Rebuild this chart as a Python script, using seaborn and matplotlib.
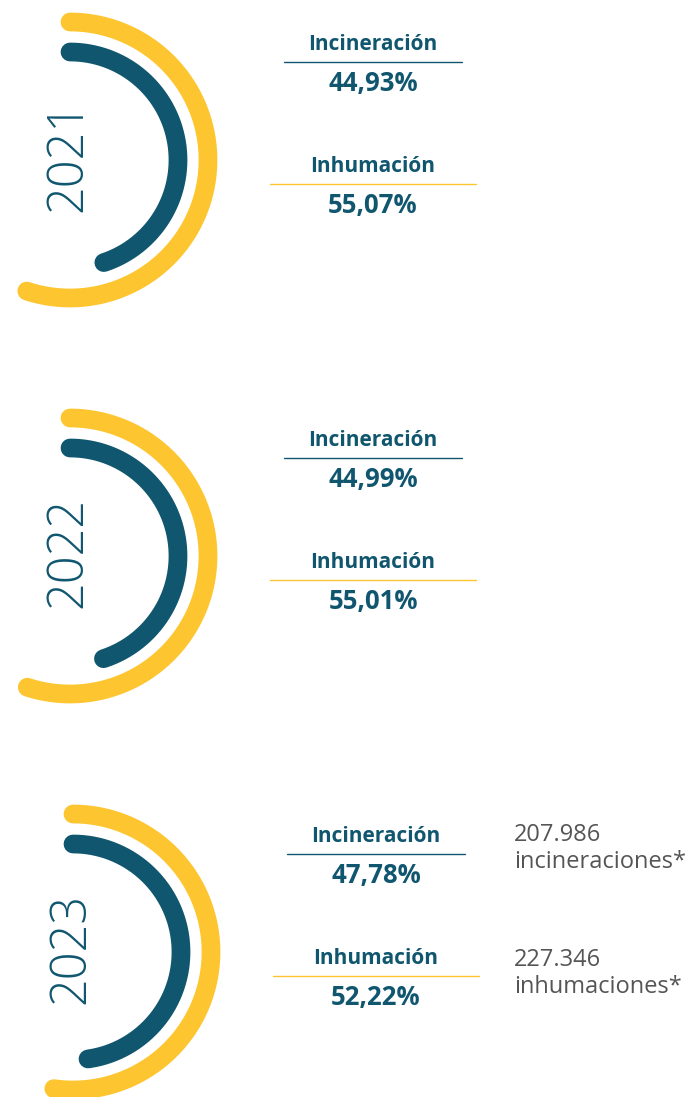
import numpy as np
import pandas as pd
import matplotlib.pyplot as plt
import seaborn as sns

# data
years = ["2021", "2022", "2023"]
incineracion_pct = [44.93, 44.99, 47.78]
inhumacion_pct = [55.07, 55.01, 52.22]
labels = ["Incineración", "Inhumación"]
counts_2023 = ["207.986", "227.346"]
count_labels = ["incineraciones*", "inhumaciones*"]

BLUE = "#10566F"
YELLOW = "#FDC530"
GRAY = "#555555"

sns.set_style("white")
plt.rcParams['font.family'] = ['Open Sans', 'DejaVu Sans']

fig = plt.figure(figsize=(6.88, 10.97), dpi=100)
ax = fig.add_axes([0, 0, 1, 1])
ax.set_xlim(0, 688)
ax.set_ylim(1097, 0)
ax.set_aspect('equal')
ax.axis('off')

# block layout (pixel space)
block_dy = [0, 396, 792]
block_dx = [0, 0, 3]


def arc(cx, cy, r, pct):
    # clockwise from the top, span proportional to share of 360 degrees
    t = np.radians(90 - np.linspace(0, pct * 3.6, 200))
    return pd.DataFrame({"x": cx + r * np.cos(t), "y": cy - r * np.sin(t)})


for i, yr in enumerate(years):
    dy, dx = block_dy[i], block_dx[i]
    cx, cy = 70 + dx, 160 + dy

    for pct, r, col in [(inhumacion_pct[i], 138, YELLOW), (incineracion_pct[i], 108, BLUE)]:
        d = arc(cx, cy, r, pct)
        sns.lineplot(data=d, x="x", y="y", sort=False, estimator=None,
                     color=col, lw=13.5, ax=ax)
        ax.lines[-1].set_solid_capstyle('round')

    ax.text(cx - 2, cy - 4, yr, rotation=90, ha='center', va='center',
            fontsize=35, color=BLUE, fontweight='light')

    tx = 373 + dx
    ax.text(tx, 44 + dy, labels[0], ha='center', va='center', fontsize=15,
            fontweight='bold', color=BLUE)
    ax.plot([284 + dx, 462 + dx], [62 + dy, 62 + dy], color=BLUE, lw=1)
    ax.text(tx, 83 + dy, f"{incineracion_pct[i]:.2f}%".replace('.', ','),
            ha='center', va='center', fontsize=18.5, fontweight='bold', color=BLUE)

    ax.text(tx, 167 + dy, labels[1], ha='center', va='center', fontsize=15,
            fontweight='bold', color=BLUE)
    ax.plot([270 + dx, 476 + dx], [184 + dy, 184 + dy], color=YELLOW, lw=1)
    ax.text(tx, 206 + dy, f"{inhumacion_pct[i]:.2f}%".replace('.', ','),
            ha='center', va='center', fontsize=18.5, fontweight='bold', color=BLUE)

# absolute counts for 2023
for j, y0 in enumerate([835, 960]):
    ax.text(514, y0, counts_2023[j], ha='left', va='center', fontsize=17,
            color=GRAY)
    ax.text(514, y0 + 27, count_labels[j], ha='left', va='center', fontsize=17,
            color=GRAY)

fig.savefig("out.png", dpi=100)
